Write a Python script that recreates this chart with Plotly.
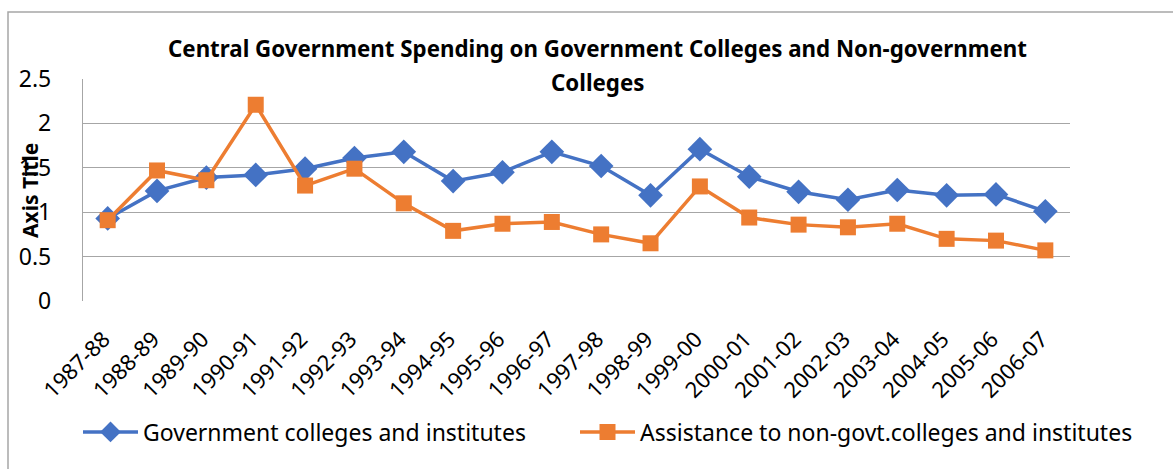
import plotly.graph_objects as go

years = ["1987-88", "1988-89", "1989-90", "1990-91", "1991-92", "1992-93", "1993-94",
         "1994-95", "1995-96", "1996-97", "1997-98", "1998-99", "1999-00", "2000-01",
         "2001-02", "2002-03", "2003-04", "2004-05", "2005-06", "2006-07"]
govt_colleges = [0.93, 1.24, 1.39, 1.42, 1.49, 1.61, 1.68, 1.35, 1.45, 1.68,
                 1.52, 1.19, 1.71, 1.40, 1.23, 1.14, 1.25, 1.19, 1.20, 1.01]
nongovt_assistance = [0.91, 1.47, 1.36, 2.21, 1.30, 1.49, 1.10, 0.79, 0.87, 0.89,
                      0.75, 0.65, 1.29, 0.94, 0.86, 0.83, 0.87, 0.70, 0.68, 0.57]
y_ticks = [0, 0.5, 1, 1.5, 2, 2.5]
y_tick_text = ["0", "0.5", "1", "1.5", "2", "2.5"]

FONT = "Noto Sans"
BLUE = "#4472C4"
ORANGE = "#ED7D31"
GRID = "#a6a6a6"

L, R, T, B = 83, 103, 79, 168
W, H = 1173, 469
pw, ph = W - L - R, H - T - B

def px_x(x):
    return (x - L) / pw

def px_y(y):
    return (H - B - y) / ph

fig = go.Figure()
fig.add_trace(go.Scatter(
    x=years, y=govt_colleges, mode="lines+markers",
    name="Government colleges and institutes",
    line=dict(color=BLUE, width=3.5),
    marker=dict(symbol="diamond", size=19, color=BLUE),
    legend="legend",
))
fig.add_trace(go.Scatter(
    x=years, y=nongovt_assistance, mode="lines+markers",
    name="Assistance to non-govt.colleges and institutes",
    line=dict(color=ORANGE, width=3.5),
    marker=dict(symbol="square", size=16, color=ORANGE),
    legend="legend2",
))

legend_style = dict(
    orientation="h", xanchor="left", yanchor="middle", y=px_y(432),
    font=dict(size=23, family=FONT, color="black"),
    itemwidth=55, bgcolor="rgba(0,0,0,0)",
)

fig.update_layout(
    width=W, height=H,
    margin=dict(l=L, r=R, t=T, b=B, autoexpand=False),
    paper_bgcolor="white", plot_bgcolor="white",
    font=dict(family=FONT, color="black"),
    showlegend=True,
    legend=dict(x=px_x(78), **legend_style),
    legend2=dict(x=px_x(575), **legend_style),
    xaxis=dict(
        type="category", range=[-0.5, len(years) - 0.5],
        tickangle=-45, tickfont=dict(size=22, family=FONT),
        ticklabelstandoff=20, ticklabelshift=-4,
        showgrid=False, zeroline=False, showline=False, ticks="",
    ),
    yaxis=dict(
        range=[0, 2.5], tickvals=y_ticks, ticktext=y_tick_text,
        tickfont=dict(size=23, family=FONT),
        showgrid=True, gridcolor=GRID, gridwidth=1.3,
        zeroline=False, showline=True, linecolor=GRID, linewidth=1.3,
        ticks="outside", ticklen=26, tickcolor="rgba(0,0,0,0)",
    ),
    annotations=[
        dict(text="<b>Central Government Spending on Government Colleges and Non-government</b>",
             xref="paper", yref="paper", x=px_x(597), y=px_y(48),
             xanchor="center", yanchor="middle", showarrow=False,
             font=dict(size=22.3, family=FONT, color="black")),
        dict(text="<b>Colleges</b>",
             xref="paper", yref="paper", x=px_x(597), y=px_y(82),
             xanchor="center", yanchor="middle", showarrow=False,
             font=dict(size=22.3, family=FONT, color="black")),
        dict(text="<b>Axis Title</b>",
             xref="paper", yref="paper", x=px_x(30), y=px_y(191),
             xanchor="center", yanchor="middle", textangle=-90, showarrow=False,
             font=dict(size=21, family=FONT, color="black")),
    ],
    shapes=[
        dict(type="rect", xref="paper", yref="paper",
             x0=px_x(8), x1=px_x(1200), y0=px_y(600), y1=px_y(12),
             line=dict(color=GRID, width=1.5), fillcolor="rgba(0,0,0,0)", layer="below"),
    ],
)

fig.write_html("out.html")
